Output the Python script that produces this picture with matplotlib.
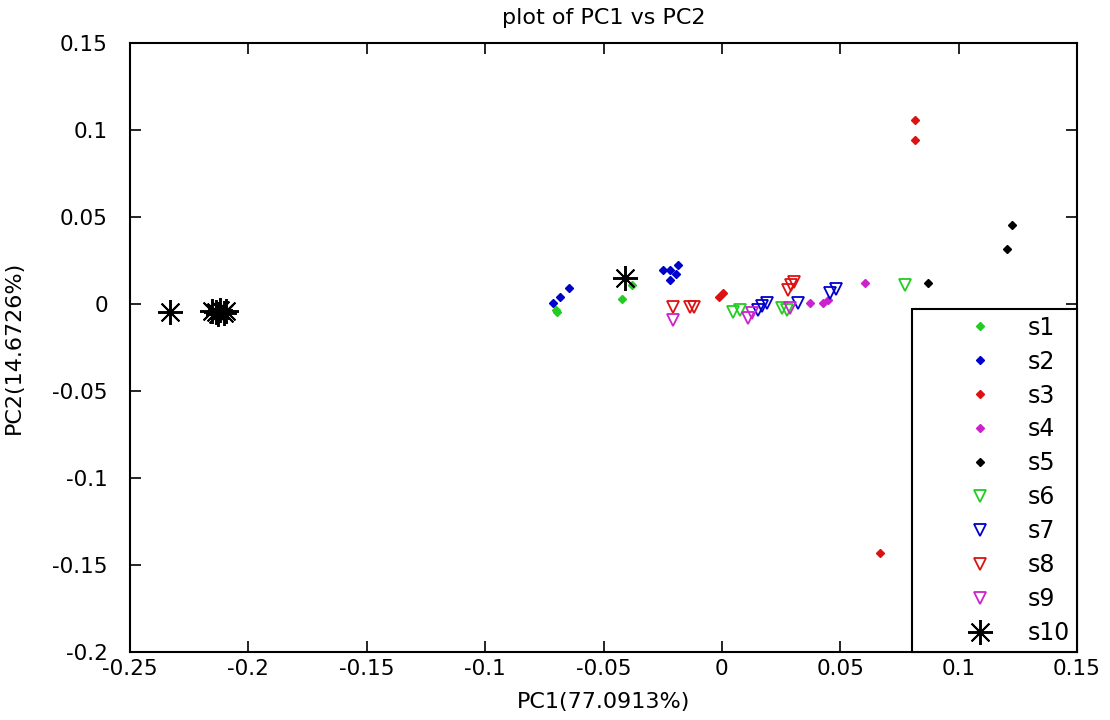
import numpy as np
import matplotlib.pyplot as plt

plt.rcParams["font.family"] = ["DejaVu Sans"]

# scores (PC1, PC2), one pair of lists per sample
s1_x = [-0.0696, -0.0700, -0.0422, -0.0380]
s1_y = [-0.0046, -0.0035, 0.0030, 0.0110]
s2_x = [-0.0713, -0.0684, -0.0646, -0.0249, -0.0219, -0.0185, -0.0219, -0.0194]
s2_y = [0.0006, 0.0040, 0.0090, 0.0195, 0.0195, 0.0224, 0.0138, 0.0172]
s3_x = [-0.0012, 0.0005, 0.0816, 0.0816, 0.0668]
s3_y = [0.0040, 0.0063, 0.1057, 0.0943, -0.1430]
s4_x = [0.0372, 0.0427, 0.0448, 0.0605]
s4_y = [0.0006, 0.0006, 0.0023, 0.0120]
s5_x = [0.0871, 0.1225, 0.1204]
s5_y = [0.0120, 0.0454, 0.0316]
s6_x = [0.0047, 0.0077, 0.0254, 0.0275, 0.0773]
s6_y = [-0.0046, -0.0034, -0.0023, -0.0034, 0.0110]
s7_x = [0.0153, 0.0169, 0.0191, 0.0322, 0.0457, 0.0482]
s7_y = [-0.0034, -0.0011, 0.0006, 0.0006, 0.0063, 0.0086]
s8_x = [-0.0206, -0.0135, -0.0118, 0.0279, 0.0292, 0.0305]
s8_y = [-0.0017, -0.0017, -0.0017, 0.0080, 0.0110, 0.0126]
s9_x = [-0.0206, 0.0110, 0.0127, 0.0288]
s9_y = [-0.0092, -0.0080, -0.0052, -0.0023]
s10_x = [-0.2331, -0.2154, -0.2137, -0.2120, -0.2103, -0.2128, -0.2095, -0.0409]
s10_y = [-0.0046, -0.0040, -0.0046, -0.0034, -0.0052, -0.0057, -0.0040, 0.0150]

labels = ["s1", "s2", "s3", "s4", "s5", "s6", "s7", "s8", "s9", "s10"]
xs = [s1_x, s2_x, s3_x, s4_x, s5_x, s6_x, s7_x, s8_x, s9_x, s10_x]
ys = [s1_y, s2_y, s3_y, s4_y, s5_y, s6_y, s7_y, s8_y, s9_y, s10_y]

green = "#22cc22"
blue = "#0000cc"
red = "#dd1111"
magenta = "#cc22cc"
cols = [green, blue, red, magenta, "black", green, blue, red, magenta, "black"]

fig = plt.figure(figsize=(11.1, 7.2), dpi=100)
ax = fig.add_axes([0.1171, 0.0944, 0.8532, 0.8459])

for i in range(10):
    if i < 5:
        ax.plot(xs[i], ys[i], linestyle="none", marker="D", markersize=4.5,
                color=cols[i], label=labels[i])
    elif i < 9:
        ax.plot(xs[i], ys[i], linestyle="none", marker="v", markersize=8,
                markerfacecolor="none", markeredgecolor=cols[i],
                markeredgewidth=1.3, label=labels[i])
    else:
        ax.plot(xs[i], ys[i], linestyle="none", marker=(8, 2, 0), markersize=18,
                markeredgewidth=1.4, color=cols[i], label=labels[i])

ax.set_xlim(-0.25, 0.15)
ax.set_ylim(-0.2, 0.15)
ax.set_xticks(np.arange(-0.25, 0.151, 0.05))
ax.set_yticks(np.arange(-0.2, 0.151, 0.05))
ax.set_xticklabels(["-0.25", "-0.2", "-0.15", "-0.1", "-0.05", "0", "0.05", "0.1", "0.15"])
ax.set_yticklabels(["-0.2", "-0.15", "-0.1", "-0.05", "0", "0.05", "0.1", "0.15"])
ax.tick_params(direction="in", length=8, width=1.2, top=True, right=True,
               labelsize=15.5)
ax.tick_params(axis="x", pad=5)
ax.tick_params(axis="y", pad=16)
for sp in ax.spines.values():
    sp.set_linewidth(1.5)

ax.set_title("plot of PC1 vs PC2", fontsize=16, pad=14)
ax.set_xlabel("PC1(77.0913%)", fontsize=16)
ax.set_ylabel("PC2(14.6726%)", fontsize=16)
ax.xaxis.set_label_coords(0.5, -0.065)
ax.yaxis.set_label_coords(-0.112, 0.5)

leg = ax.legend(loc="lower right", fontsize=17, frameon=True, fancybox=False,
                borderaxespad=0, handletextpad=-0.6, labelspacing=0.42,
                borderpad=0.3, handlelength=5.2, markerscale=1.0)
leg.get_frame().set_edgecolor("black")
leg.get_frame().set_linewidth(1.5)
leg.get_frame().set_alpha(1)

fig.savefig("out.png", dpi=100)
